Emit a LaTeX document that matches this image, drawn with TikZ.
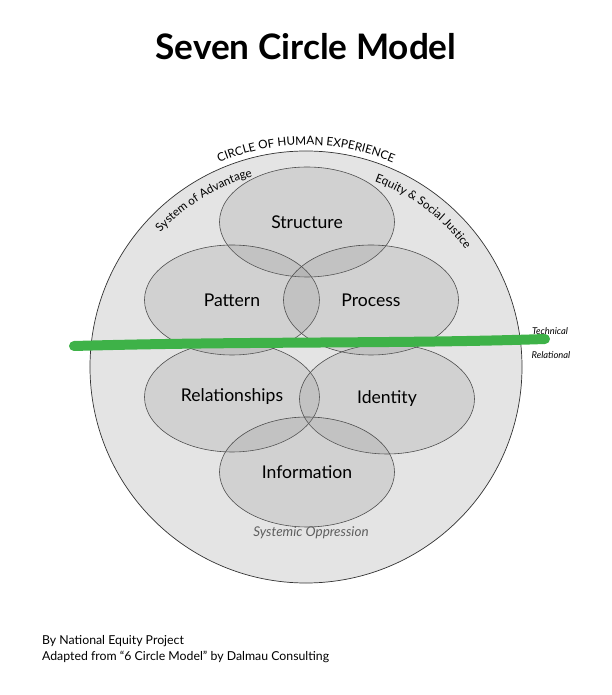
\documentclass[tikz,border=0pt]{standalone}
\usepackage{fontspec}
\setmainfont{Lato}
\usetikzlibrary{shapes.geometric,decorations.text}

\definecolor{bigfill}{RGB}{228,228,228}
\definecolor{linegreen}{RGB}{62,178,72}
\definecolor{labelgray}{RGB}{95,95,95}

\tikzset{
  sphere/.style={ellipse,draw=black!70,line width=0.5pt,fill=gray,fill opacity=0.18,
    text opacity=1,minimum width=5.25cm,minimum height=3.3cm},
  label15/.style={font=\fontsize{15}{18}\selectfont},
  side/.style={font=\itshape\fontsize{11.5}{13}\selectfont,text=labelgray},
}

\begin{document}
\begin{tikzpicture}[x=0.03cm,y=0.03cm]
  \useasboundingbox (0,0) rectangle (612,695);

  % outer circle
  \node[circle,draw=black!80,line width=0.6pt,fill=bigfill,minimum size=12.96cm] (human) at (306,328) {};

  % the six circles
  \node[sphere] (structure) at (307,473) {};
  \node[sphere] (pattern) at (232,395) {};
  \node[sphere] (process) at (371,395) {};
  \node[sphere] (relation) at (232,298) {};
  \node[sphere] (identity) at (387,296) {};
  \node[sphere] (info) at (307,223) {};

  \node[label15] at (structure) {Structure};
  \node[label15] at (pattern) {Pattern};
  \node[label15] at (process) {Process};
  \node[label15] at (relation) {Relationships};
  \node[label15] at (identity) {Identity};
  \node[label15] at (info) {Information};

  % technical / relational line
  \coordinate (lineL) at (74,349);
  \coordinate (lineR) at (545,356);
  \draw[linegreen,line width=0.3cm,line cap=round] (lineL) .. controls (250,354) and (400,351) .. (lineR);
  \node[font=\itshape\fontsize{8}{9}\selectfont] (tech) at (550,364) {Technical};
  \node[font=\itshape\fontsize{8}{9}\selectfont] (rel) at (551,340) {Relational};

  % curved labels
  \path[font=\bfseries\fontsize{11}{13}\selectfont,decorate,decoration={text along path,text align=center,
      text={CIRCLE OF HUMAN EXPERIENCE}}]
    (306,328) ++(127:222) arc (127:53:222);
  \path[font=\itshape\fontsize{11.5}{13}\selectfont,text=labelgray,decorate,decoration={text along path,text align=center,
      text={System of Advantage}}]
    (306,328) ++(148:198) arc (148:95:198);
  \path[font=\itshape\fontsize{11.5}{13}\selectfont,text=labelgray,decorate,decoration={text along path,text align=center,
      text={Equity {\&} Social Justice}}]
    (306,328) ++(80:198) arc (80:26:198);
  \node[side] (oppression) at (311,162) {Systemic Oppression};

  % title and credits
  \node[font=\fontsize{30}{36}\selectfont\bfseries] (title) at (306,648) {Seven Circle Model};
  \node[anchor=west,font=\fontsize{10.5}{13}\selectfont,align=left] (credit) at (38,46)
    {By National Equity Project\\Adapted from “6 Circle Model” by Dalmau Consulting};
\end{tikzpicture}
\end{document}
